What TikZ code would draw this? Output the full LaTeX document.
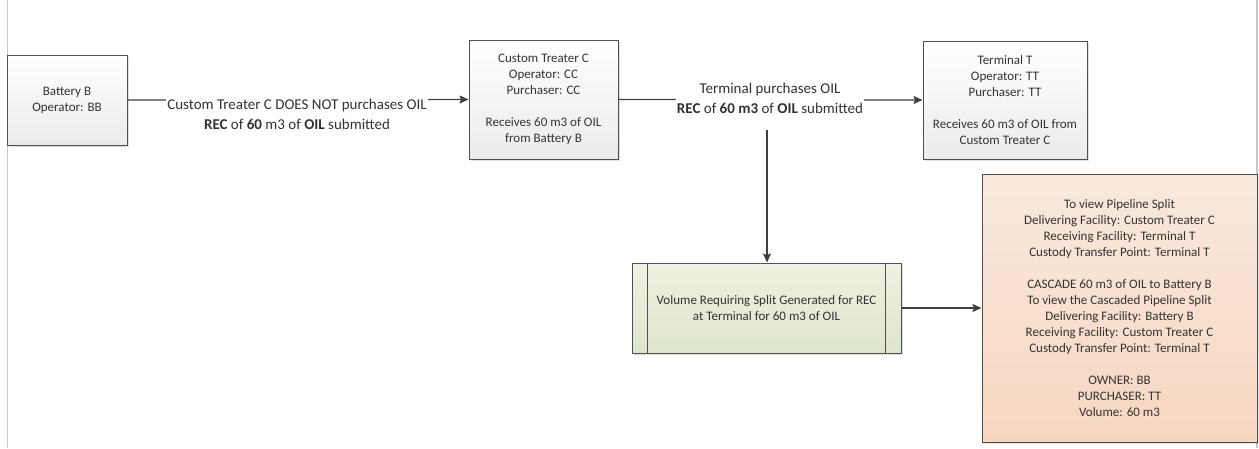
\documentclass[tikz,border=0pt]{standalone}
\usepackage{fontspec}
\setmainfont{Carlito}
\usetikzlibrary{arrows.meta,shadows}
\definecolor{txt}{HTML}{333333}
\definecolor{edge}{HTML}{505050}
\definecolor{arr}{HTML}{404040}
\definecolor{pagegray}{HTML}{C8C8C8}
\definecolor{greentop}{HTML}{EEF2E3}
\definecolor{greenbot}{HTML}{DEE5CC}
\definecolor{orangetop}{HTML}{FAE9DE}
\definecolor{orangebot}{HTML}{F6D6C0}
\definecolor{greybot}{HTML}{EBEBEB}
\tikzset{
  basebox/.style={draw=edge, line width=1pt, align=center, text=txt,
    font=\fontsize{13}{16}\selectfont, inner sep=0pt,
    drop shadow={shadow xshift=1.5pt, shadow yshift=-1.5pt, opacity=0.25, fill=gray}},
  greybox/.style={basebox, top color=white, bottom color=greybot},
  greenbox/.style={basebox, top color=greentop, bottom color=greenbot},
  orangebox/.style={basebox, top color=orangetop, bottom color=orangebot},
  flow/.style={draw=arr, line width=1.2pt, -{Stealth[length=9pt,width=8pt,inset=1.5pt]}},
  lbl/.style={fill=white, text=txt, align=center, inner sep=1pt,
    font=\fontsize{15}{20}\selectfont}
}
\begin{document}
\begin{tikzpicture}[x=1pt,y=-1pt]
\useasboundingbox (0,0) rectangle (1259,448);
\fill[white] (0,0) rectangle (1259,448);
\draw[pagegray, line width=1.5pt] (7.5,0) -- (7.5,448);
\draw[pagegray, line width=1.5pt] (1257,0) -- (1257,448);

\node[greybox, minimum width=120pt, minimum height=90pt] (bat) at (67,100)
  {Battery B\\Operator: BB};
\node[greybox, minimum width=149pt, minimum height=119pt] (ct) at (543.5,99.5)
  {Custom Treater C\\Operator: CC\\Purchaser: CC\\[16pt]Receives 60 m3 of OIL\\from Battery B};
\node[greybox, minimum width=164pt, minimum height=118pt] (term) at (1005,100)
  {Terminal T\\Operator: TT\\Purchaser: TT\\[16pt]Receives 60 m3 of OIL from\\Custom Treater C};
\node[greenbox, minimum width=269pt, minimum height=90pt] (vol) at (766.5,308)
  {Volume Requiring Split Generated for REC\\at Terminal for 60 m3 of OIL};
\draw[edge, line width=1pt] ([xshift=16pt]vol.north west) -- ([xshift=16pt]vol.south west);
\draw[edge, line width=1pt] ([xshift=-16pt]vol.north east) -- ([xshift=-16pt]vol.south east);
\node[orangebox, minimum width=275pt, minimum height=268pt] (split) at (1119.5,308)
  {To view Pipeline Split\\Delivering Facility: Custom Treater C\\Receiving Facility: Terminal T\\Custody Transfer Point: Terminal T\\[16pt]
   CASCADE 60 m3 of OIL to Battery B\\To view the Cascaded Pipeline Split\\Delivering Facility: Battery B\\Receiving Facility: Custom Treater C\\Custody Transfer Point: Terminal T\\[16pt]
   OWNER: BB\\PURCHASER: TT\\Volume: 60 m3};

\draw[flow] (bat.east) -- (ct.west);
\node[lbl] (l1) at (297,114.5) {Custom Treater C DOES NOT purchases OIL\\\textbf{REC} of \textbf{60} m3 of \textbf{OIL} submitted};
\draw[flow] (ct.east) -- (term.west);
\node[lbl] (l2) at (770,98.5) {Terminal purchases OIL\\\textbf{REC} of \textbf{60 m3} of \textbf{OIL} submitted};
\coordinate (vtop) at (767,130);
\draw[flow] (vtop) -- (vtop |- vol.north);
\draw[flow] (vol.east) -- (vol.east -| split.west);
\end{tikzpicture}
\end{document}
